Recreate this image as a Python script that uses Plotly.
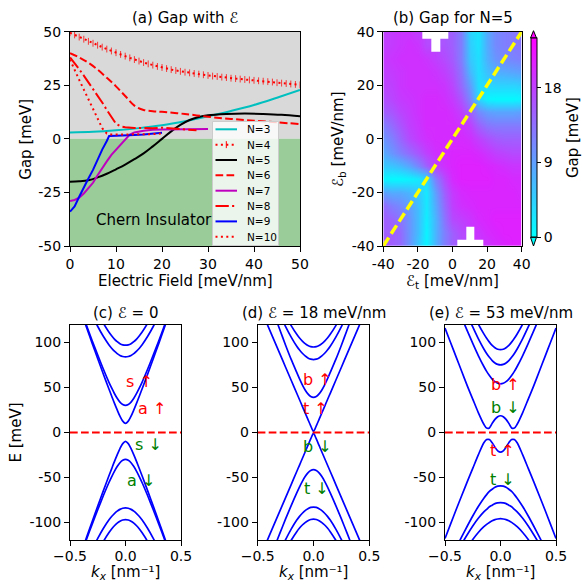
import plotly.graph_objects as go

W, H = 582, 584


def PX(px):
    return px / W


def PY(py):
    return 1 - py / H


# ---------------- DATA ----------------
# (a) gap vs electric field
N3_X = [0, 5, 10, 15, 20, 25, 30, 35, 40, 45, 50]
N3_Y = [3, 3.3, 4, 5, 6.3, 8.2, 10.5, 13, 15.8, 19.2, 22.8]

N4_X = list(range(0, 51))
N4_Y = [49.5, 48.5, 47.5, 46.5, 45.5, 44.6, 43.7, 42.8, 41.9, 41, 40.2, 39.4, 38.6, 37.8, 37,
        36.3, 35.6, 35, 34.4, 33.8, 33.3, 32.8, 32.3, 31.9, 31.5, 31.1, 30.8, 30.5, 30.2, 29.9,
        29.6, 29.3, 29.1, 28.8, 28.6, 28.3, 28.1, 27.9, 27.7, 27.5, 27.3, 27.1, 26.9, 26.7, 26.5,
        26.2, 26, 25.8, 25.6, 25.4, 25.2]
N4_ERR = 1.6

N5_X = [0, 2, 4, 6, 8, 10, 12, 14, 16, 18, 20, 22, 24, 26, 28, 30, 34, 38, 42, 46, 50]
N5_Y = [-20, -19.8, -19.3, -18, -16.3, -14.2, -12, -9.5, -6.8, -3.5, 0, 3.5, 6.5, 8.8, 10.2,
        11, 11.6, 11.8, 11.6, 11.2, 10.5]

N6_X = [0, 2, 4, 6, 8, 10, 12, 14, 16, 18, 20, 25, 30, 35, 40, 45, 50]
N6_Y = [40, 38, 35.5, 32.3, 28.5, 24.5, 20, 15.5, 13.5, 12.9, 12.6, 11.6, 10.3, 9.3, 8.5, 7.7, 6.9]

N7_X = [0, 1, 2, 3, 4, 5, 6, 7, 8, 9, 10, 11, 12, 13, 14, 16, 18, 20, 25, 30]
N7_Y = [-29, -28.5, -27.5, -25.5, -23, -20.5, -17, -13.5, -10.5, -7.5, -5, -2.5, 0, 2, 3,
        3.8, 4.2, 4.4, 4.5, 4.6]

N8_X = [0, 1, 2, 3, 4, 5, 6, 7, 8, 9, 10, 11, 12, 14, 16, 18, 20, 22, 24, 26, 27.5]
N8_Y = [38, 35.5, 32.5, 29.5, 26.5, 23.5, 20.5, 17, 13.5, 10, 7, 5.8, 5.4, 5.1, 5, 5, 5.2,
        4.8, 4.5, 4.2, 4]

N9_X = [0, 1, 2, 3, 4, 5, 6, 7, 8, 8.5, 10, 12, 14, 16, 18, 20]
N9_Y = [-34, -31.5, -27, -22.5, -18.5, -14.5, -9.5, -5, -1, 1.3, 1.5, 1.5, 1.8, 2, 2.3, 2.8]

N10_X = [0, 1, 2, 3, 4, 5, 6, 7, 8, 9, 10, 12, 14, 16, 18, 20]
N10_Y = [37, 32, 27.5, 23, 18.5, 14, 9.5, 5, 2.5, 2, 2, 2, 2, 2, 2.2, 2.5]

GAP_X_TICKS = [0, 10, 20, 30, 40, 50]
GAP_Y_TICKS = [-50, -25, 0, 25, 50]
GAP_Y_LABELS = ["-50", "-25", "0", "25", "50"]

# (b) gap map for N=5 (rows: Eb from 40 down to -40, columns: Et from -40 to 40)
ET = [-40, -35, -30, -25, -20, -15, -10, -5, 0, 5, 10, 15, 20, 25, 30, 35, 40]
EB = [40, 35, 30, 25, 20, 15, 10, 5, 0, -5, -10, -15, -20, -25, -30, -35, -40]
N = None
GAP = [
    [18, 18.5, 19, 19, 18, N, N, N, 15, 12, 4, 2.5, 8, 11, 12, 12.5, 13],
    [18, 18.5, 19, 19.5, 19, 17, N, 16, 15, 12, 4.5, 2.5, 8, 11, 12, 12.5, 13],
    [18.5, 19, 19.5, 19.5, 19.5, 19, 18, 17, 15.5, 12, 5, 3, 7.5, 10, 11, 11.5, 12],
    [18, 18.5, 19, 19.5, 19.5, 19.5, 19, 18, 16.5, 13, 6.5, 3, 6, 7.5, 8, 8.5, 9],
    [17.5, 18, 19, 19.5, 19.5, 19.5, 19.5, 19, 17.5, 14, 9, 3, 3.5, 4, 4, 4, 4.5],
    [16.5, 17.5, 18.5, 19, 19.5, 20, 20, 19.5, 18.5, 16, 11, 4, 1, 0.5, 0.5, 0.5, 1],
    [15, 16, 17.5, 18.5, 19.5, 20, 20, 20, 19.5, 18, 15, 11, 9, 8.5, 8.5, 8.5, 9],
    [12, 14, 16, 18, 19, 20, 20, 20, 20, 19.5, 18, 15, 13, 12.5, 12.5, 12.5, 12.5],
    [10, 12, 14.5, 17, 18.5, 19.5, 20, 20, 20, 20, 19.5, 18, 16.5, 15.5, 15, 15, 15],
    [8, 10, 12, 14, 16, 18, 19.5, 20, 20.5, 20.5, 20.5, 20, 19, 18, 17.5, 17, 17],
    [5, 5.5, 6.5, 8.5, 11.5, 15, 18, 19.5, 20.5, 21, 21, 21, 20.5, 20, 19.5, 19, 19],
    [1, 0.5, 0.5, 1, 2, 4, 12, 17, 20, 21, 21, 21, 21, 20.5, 20.5, 20, 20],
    [9, 8, 8, 7, 5, 2, 9, 15, 18.5, 20, 20.5, 20.5, 20.5, 20.5, 20.5, 20.5, 20],
    [14, 12, 11, 9, 6, 2, 8, 14, 18, 19.5, 20, 20.5, 20.5, 20.5, 20.5, 20.5, 20.5],
    [15, 14.5, 13, 10, 6, 1.5, 7, 13, 17, 18, 19, 20, 20.5, 21, 21, 21, 21],
    [15, 15, 14, 10, 6, 1, 7, 12, 15, 17, N, 19, 20, 20.5, 21, 21, 21],
    [16, 15, 14, 10, 5, 1, 7, 12, 15, N, N, N, 19, 20, 20.5, 21, 21],
]
DIAG_ET = [-40, 40]
DIAG_EB = [-40, 40]
MAP_TICKS = [-40, -20, 0, 20, 40]
MAP_LABELS = ["-40", "-20", "0", "20", "40"]
CB_TICKS = [0, 9, 18]

# (c)-(e) band structures: energies at k >= 0 (bands are symmetric in k)
K_HALF = [0, 0.025, 0.05, 0.075, 0.1, 0.125, 0.15, 0.2, 0.25, 0.3, 0.35, 0.4, 0.45, 0.5]

C_BANDS = [
    [10, 12.5, 18, 25, 32.5, 40.5, 48.5, 65, 82, 99, 116.5, 134, 151, 168],
    [30, 31, 33.7, 38, 43.3, 49.4, 56, 70.5, 86, 102, 118.5, 135, 152, 169],
    [84, 84.4, 85.6, 87.6, 90.3, 93.6, 97.5, 106.9, 117.8, 129.8, 142.6, 156, 170, 184],
    [97, 97.4, 98.7, 100.9, 103.8, 107.5, 111.7, 121.5, 133, 145.8, 159.6, 174, 189, 204],
    [-10, -12.5, -18, -25, -32.5, -40.5, -48.5, -65, -82, -99, -116.5, -134, -151, -168],
    [-30, -31, -33.7, -38, -43.3, -49.4, -56, -70.5, -86, -102, -118.5, -135, -152, -169],
    [-84, -84.4, -85.6, -87.6, -90.3, -93.6, -97.5, -106.9, -117.8, -129.8, -142.6, -156, -170, -184],
    [-97, -97.4, -98.7, -100.9, -103.8, -107.5, -111.7, -121.5, -133, -145.8, -159.6, -174, -189, -204],
]
D_BANDS = [
    [1, 7.3, 14.5, 21.8, 29, 36.3, 43.5, 58, 72.5, 87, 101.5, 116, 130.5, 145],
    [39, 40, 42.8, 47.2, 52.9, 59.5, 66.7, 81.2, 97, 113.6, 130.5, 147.7, 165, 182],
    [81, 81.5, 82.8, 85, 88, 91.6, 95.8, 106, 117.7, 130.6, 144.3, 158.6, 173.3, 188.3],
    [95, 95.4, 96.7, 98.8, 101.6, 105, 109.1, 118.8, 130, 142.4, 155.7, 169.7, 184, 199],
    [-1, -7.3, -14.5, -21.8, -29, -36.3, -43.5, -58, -72.5, -87, -101.5, -116, -130.5, -145],
    [-41.5, -42.4, -45, -49.1, -54.4, -60.5, -67.3, -81.4, -96.2, -111.8, -127.5, -143.5, -159.7, -176],
    [-83, -83.4, -84.8, -86.9, -89.9, -93.4, -97.5, -107.6, -119.3, -132, -145.7, -160, -175, -190],
    [-96.5, -96.9, -98.2, -100.3, -103, -106.4, -110.4, -120, -131, -143.4, -156.7, -170.7, -185, -200],
]
E_BANDS = [
    [18.5, 17.5, 14.5, 10, 5, 4.8, 9, 22, 37, 52, 68, 84, 100, 116],
    [54, 54.6, 56.4, 59.3, 63.2, 67.9, 73.3, 85.5, 99, 113.2, 127.7, 142.6, 157.6, 172.8],
    [75, 75.6, 77.2, 79.9, 83.5, 87.8, 92.8, 104.3, 117.3, 131.1, 145.6, 160.4, 175.5, 190.8],
    [92, 92.5, 94.2, 96.8, 100.4, 104.6, 109.5, 120.5, 133, 146.5, 161, 176, 191, 206],
    [-22, -20.5, -16.5, -11.5, -8, -8, -11.5, -25, -40, -55, -70.5, -86, -102, -118],
    [-59.4, -59.8, -61, -63.2, -65.7, -69.2, -73.1, -82.4, -93, -104.4, -116.2, -128.3, -140.5, -152.8],
    [-78, -78.3, -79.2, -80.9, -82.7, -85.6, -88.4, -95.5, -104.1, -113.8, -124.2, -135.2, -146.7, -158.5],
    [-96, -96.3, -97, -98.3, -100.1, -102.3, -104.9, -111.3, -119.1, -128, -137.7, -148.1, -159.1, -170.6],
]
ZERO_K = [-0.5, 0.5]
ZERO_E = [0, 0]
K_TICKS = [-0.5, 0, 0.5]
K_LABELS = ["\u22120.5", "0.0", "0.5"]
E_TICKS = [-100, -50, 0, 50, 100]
E_LABELS = ["-100", "-50", "0", "50", "100"]

C_TEXT = [("s \u2191", 0.13, 57, "red"), ("a \u2191", 0.24, 27, "red"),
          ("s \u2193", 0.21, -14, "green"), ("a \u2193", 0.144, -53, "green")]
D_TEXT = [("b \u2191", 0.04, 58.6, "red"), ("t \u2191", 0.015, 27, "red"),
          ("b \u2193", 0.04, -15.6, "green"), ("t \u2193", 0.026, -62, "green")]
E_TEXT = [("b \u2191", 0.048, 53.8, "red"), ("b \u2193", 0.048, 28.2, "green"),
          ("t \u2191", 0.018, -20.4, "red"), ("t \u2193", 0.0225, -52, "green")]

# ---------------- FIGURE ----------------
FONT = "DejaVu Sans"
RED = "#ff0000"
DOT = "2px,3.4px"
DASH = "7.7px,3.3px"
DASHDOT = "13.3px,3.3px,2.1px,3.3px"

fig = go.Figure()

# panel (a)
series = [
    ("N=3", N3_X, N3_Y, "#00bfbf", "solid", "spline"),
    ("N=5", N5_X, N5_Y, "black", "solid", "spline"),
    ("N=6", N6_X, N6_Y, RED, DASH, "spline"),
    ("N=7", N7_X, N7_Y, "#bf00bf", "solid", "linear"),
    ("N=8", N8_X, N8_Y, RED, DASHDOT, "linear"),
    ("N=9", N9_X, N9_Y, "#0000ff", "solid", "linear"),
    ("N=10", N10_X, N10_Y, RED, DOT, "linear"),
]
for name, xs, ys, col, dash, shape in series:
    fig.add_trace(go.Scatter(x=xs, y=ys, name=name, mode="lines", xaxis="x", yaxis="y",
                             line=dict(color=col, width=2, dash=dash, shape=shape)))
fig.add_trace(go.Scatter(x=N4_X, y=N4_Y, name="N=4", mode="lines", xaxis="x", yaxis="y",
                         line=dict(color=RED, width=2, dash=DOT),
                         error_y=dict(type="constant", value=N4_ERR, color="rgba(255,0,0,0.75)",
                                      thickness=1, width=0)))

# panel (b)
fig.add_trace(go.Heatmap(x=ET, y=EB, z=GAP, xaxis="x2", yaxis="y2", zmin=0, zmax=24,
                         zsmooth="best", colorscale=[[0, "#00ffff"], [1, "#ff00ff"]],
                         colorbar=dict(thickness=6, thicknessmode="pixels",
                                       len=(237.3 - 38) / H, lenmode="fraction",
                                       x=PX(530.5), xanchor="left", xpad=0,
                                       y=PY((38 + 237.3) / 2), yanchor="middle", ypad=0,
                                       tickvals=CB_TICKS, ticks="outside", ticklen=4,
                                       tickcolor="black",
                                       tickfont=dict(size=14, color="black"),
                                       outlinewidth=1, outlinecolor="black",
                                       title=dict(text="Gap [meV]", side="right",
                                                  font=dict(size=15, color="black")))))
fig.add_trace(go.Scatter(x=DIAG_ET, y=DIAG_EB, mode="lines", xaxis="x2", yaxis="y2",
                         line=dict(color="#ffff00", width=3.5, dash="10px,4.5px")))

# panels (c)-(e)
k_full = [-k for k in reversed(K_HALF[1:])] + K_HALF
for ax_i, bands in [(3, C_BANDS), (4, D_BANDS), (5, E_BANDS)]:
    for b in bands:
        e_full = list(reversed(b[1:])) + b
        fig.add_trace(go.Scatter(x=k_full, y=e_full, mode="lines", xaxis=f"x{ax_i}",
                                 yaxis=f"y{ax_i}",
                                 line=dict(color="#0000ff", width=1.7, shape="spline",
                                           smoothing=0.8)))
    fig.add_trace(go.Scatter(x=ZERO_K, y=ZERO_E, mode="lines", xaxis=f"x{ax_i}",
                             yaxis=f"y{ax_i}",
                             line=dict(color=RED, width=2, dash=DASH)))


def axis(domain, anchor, **kw):
    d = dict(domain=domain, anchor=anchor, showline=True, linecolor="black", linewidth=1,
             mirror=True, ticks="outside", ticklen=5, tickwidth=1, tickcolor="black",
             showgrid=False, zeroline=False, automargin=False,
             tickfont=dict(size=14, color="black"))
    d.update(kw)
    return d


Y_TOP = [PY(246), PY(31.7)]
Y_BOT = [PY(540.3), PY(324.5)]

layout = dict(
    width=W, height=H, margin=dict(l=0, r=0, t=0, b=0),
    paper_bgcolor="white", plot_bgcolor="white", showlegend=False,
    font=dict(family=FONT, size=14, color="black"),
    xaxis=axis([PX(70), PX(300)], "y", range=[0, 50], tickvals=GAP_X_TICKS),
    yaxis=axis(Y_TOP, "x", range=[-50, 50], tickvals=GAP_Y_TICKS, ticktext=GAP_Y_LABELS),
    xaxis2=axis([PX(383.3), PX(521.7)], "y2", range=[-40, 40], tickvals=MAP_TICKS,
                ticktext=MAP_LABELS),
    yaxis2=axis(Y_TOP, "x2", range=[-40, 40], tickvals=MAP_TICKS, ticktext=MAP_LABELS),
)
for i, (x0, x1) in zip([3, 4, 5], [(70, 181), (257.7, 369.3), (445, 556)]):
    layout[f"xaxis{i}"] = axis([PX(x0), PX(x1)], f"y{i}", range=[-0.5, 0.5],
                               tickvals=K_TICKS, ticktext=K_LABELS, ticklabelstandoff=-2)
    layout[f"yaxis{i}"] = axis(Y_BOT, f"x{i}", range=[-120, 120], tickvals=E_TICKS,
                               ticktext=E_LABELS)

shapes = [
    dict(type="rect", xref="x", yref="y", x0=0, x1=50, y0=0, y1=50, layer="below",
         fillcolor="#d9d9d9", line=dict(width=0)),
    dict(type="rect", xref="x", yref="y", x0=0, x1=50, y0=-50, y1=0, layer="below",
         fillcolor="#99cc99", line=dict(width=0)),
    # colorbar extension triangles
    dict(type="path", xref="paper", yref="paper",
         path=f"M {PX(530.5)},{PY(38)} L {PX(533.5)},{PY(30.7)} L {PX(536.5)},{PY(38)} Z",
         fillcolor="#ff00ff", line=dict(color="black", width=1)),
    dict(type="path", xref="paper", yref="paper",
         path=f"M {PX(530.5)},{PY(237.3)} L {PX(533.5)},{PY(246)} L {PX(536.5)},{PY(237.3)} Z",
         fillcolor="#00ffff", line=dict(color="black", width=1)),
    # legend box
    dict(type="rect", xref="paper", yref="paper", x0=PX(212.5), x1=PX(278.5),
         y0=PY(245.5), y1=PY(121.5), layer="above",
         fillcolor="rgba(255,255,255,0.8)", line=dict(color="#cccccc", width=1)),
]

annotations = []
legend_items = [("N=3", "#00bfbf", "solid"), ("N=4", RED, DOT), ("N=5", "black", "solid"),
                ("N=6", RED, DASH), ("N=7", "#bf00bf", "solid"), ("N=8", RED, DASHDOT),
                ("N=9", "#0000ff", "solid"), ("N=10", RED, DOT)]
for i, (lab, col, dash) in enumerate(legend_items):
    yc = 129.3 + 15.35 * i
    shapes.append(dict(type="line", xref="paper", yref="paper", x0=PX(215.5), x1=PX(237),
                       y0=PY(yc), y1=PY(yc), layer="above",
                       line=dict(color=col, width=2, dash=dash)))
    if lab == "N=4":
        shapes.append(dict(type="line", xref="paper", yref="paper", x0=PX(226.3),
                           x1=PX(226.3), y0=PY(yc - 3.5), y1=PY(yc + 3.5), layer="above",
                           line=dict(color=col, width=1)))
    annotations.append(dict(text=lab, xref="paper", yref="paper", x=PX(245), y=PY(yc),
                            xanchor="left", yanchor="middle", showarrow=False,
                            font=dict(size=10.5, color="black")))


def note(text, x, y, size=15, angle=0, **kw):
    d = dict(text=text, xref="paper", yref="paper", x=PX(x), y=PY(y), xanchor="center",
             yanchor="middle", showarrow=False, textangle=angle,
             font=dict(size=size, color="black"))
    d.update(kw)
    annotations.append(d)


note("(a) Gap with \u2130", 185, 18)
note("(b) Gap for N=5", 452.5, 18)
note("(c) \u2130 = 0", 125.5, 313)
note("(d) \u2130 = 18 meV/nm", 313.5, 313)
note("(e) \u2130 = 53 meV/nm", 500.5, 313)
note("Electric Field [meV/nm]", 185, 280.5)
note("Gap [meV]", 25.7, 139, angle=-90)
note("\u2130<sub>t</sub> [meV/nm]", 452.5, 281)
note("\u2130<sub>b</sub> [meV/nm]", 338, 139, angle=-90)
note("E [meV]", 15, 432.5, angle=-90)
for cx in [125.5, 313.5, 500.5]:
    note("<i>k<sub>x</sub></i> [nm\u207b\u00b9]", cx, 584, yanchor="bottom")

annotations.append(dict(text="Chern Insulator", xref="x", yref="y", x=5.2, y=-38,
                        xanchor="left", yanchor="middle", showarrow=False,
                        font=dict(size=15, color="black")))
for ax_i, items in [(3, C_TEXT), (4, D_TEXT), (5, E_TEXT)]:
    for txt, kx, ev, col in items:
        annotations.append(dict(text=txt, xref=f"x{ax_i}", yref=f"y{ax_i}", x=kx, y=ev,
                                xanchor="center", yanchor="middle", showarrow=False,
                                font=dict(size=16, color=col)))

layout["shapes"] = shapes
layout["annotations"] = annotations
fig.update_layout(**layout)
fig.write_html(
    "out.html",
    config={"displayModeBar": False},
    post_script="document.body.style.margin='0';document.body.style.padding='0';"
                "document.documentElement.style.overflow='hidden';",
)
